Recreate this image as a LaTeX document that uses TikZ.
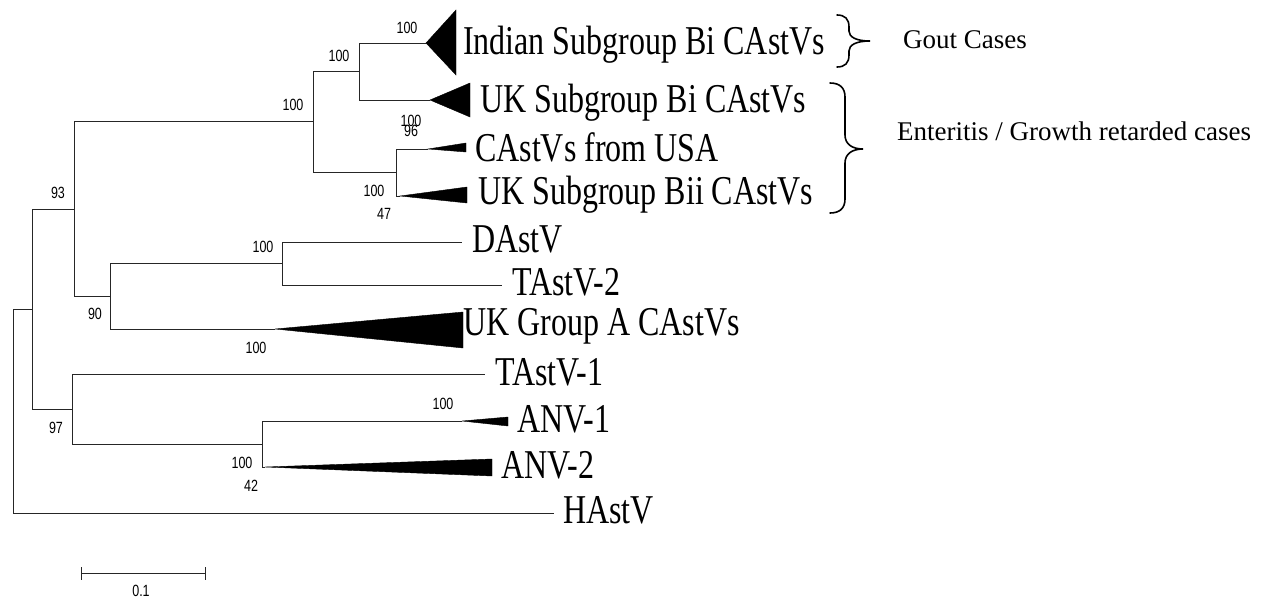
\documentclass[tikz,border=0pt]{standalone}
\usepackage{fontspec}
\usepackage{graphicx}
\setmainfont{Liberation Serif}
\newfontfamily\bsfamily{Liberation Sans}
\newcommand{\tiptext}[1]{\scalebox{1}[1.28]{\fontsize{32}{32}\selectfont #1}}
\newcommand{\bstext}[1]{\scalebox{1}[1.3]{\bsfamily\fontsize{12.5}{12.5}\selectfont #1}}
\begin{document}
\begin{tikzpicture}[x=1pt,y=-1pt,
  branch/.style={line width=0.8pt,draw=black!85},
  clade/.style={fill=black,draw=black,line width=0.4pt},
  tip/.style={anchor=base west,inner sep=0pt},
  bs/.style={inner sep=0pt,anchor=center},
  note/.style={anchor=base west,inner sep=0pt,font=\fontsize{27}{27}\selectfont},
  bracestyle/.style={line width=1.6pt,line cap=round}]
\useasboundingbox (0,0) rectangle (1267,600);

% internal nodes
\coordinate (R) at (13,411);
\coordinate (A) at (32,309.5);
\coordinate (B) at (74,209);
\coordinate (C) at (313,121.5);
\coordinate (D) at (359,71.5);
\coordinate (E) at (396,172.5);
\coordinate (G) at (110,296);
\coordinate (H) at (282,263.5);
\coordinate (F) at (72,409.5);
\coordinate (I) at (262,444);
% tips
\coordinate (tInd) at (426,43);
\coordinate (tUKBi) at (430,100);
\coordinate (tUSA) at (428,149);
\coordinate (tBii) at (400,196);
\coordinate (tD) at (462,242);
\coordinate (tT2) at (502,285);
\coordinate (tGA) at (275,329);
\coordinate (tT1) at (485,374);
\coordinate (tA1) at (462,421);
\coordinate (tA2) at (265,467);
\coordinate (tH) at (554,513);

% branches
\draw[branch] (R) |- (A);
\draw[branch] (R) |- (tH);
\draw[branch] (A) |- (B);
\draw[branch] (A) |- (F);
\draw[branch] (B) |- (C);
\draw[branch] (B) |- (G);
\draw[branch] (C) |- (D);
\draw[branch] (C) |- (E);
\draw[branch] (D) |- (tInd);
\draw[branch] (D) |- (tUKBi);
\draw[branch] (E) |- (tUSA);
\draw[branch] (E) |- (tBii);
\draw[branch] (G) |- (H);
\draw[branch] (G) |- (tGA);
\draw[branch] (H) |- (tD);
\draw[branch] (H) |- (tT2);
\draw[branch] (F) |- (tT1);
\draw[branch] (F) |- (I);
\draw[branch] (I) |- (tA1);
\draw[branch] (I) |- (tA2);

% collapsed clades
\filldraw[clade] (tInd) -- ++(30,-33) -- ++(0,65) -- cycle;
\filldraw[clade] (tUKBi) -- ++(40,-17) -- ++(0,34) -- cycle;
\filldraw[clade] (tUSA) -- ++(38,-6) -- ++(0,9) -- cycle;
\filldraw[clade] (tBii) -- ++(67,-9) -- ++(0,16) -- cycle;
\filldraw[clade] (tGA) -- ++(188,-17) -- ++(0,36) -- cycle;
\filldraw[clade] (tA1) -- ++(46,-4) -- ++(0,9) -- cycle;
\filldraw[clade] (tA2) -- ++(227,-8) -- ++(0,17) -- cycle;

% tip labels
\node[tip] (lInd) at (463,54) {\tiptext{Indian Subgroup Bi CAstVs}};
\node[tip] (lUKBi) at (480,112) {\tiptext{UK Subgroup Bi CAstVs}};
\node[tip] (lUSA) at (475,161) {\tiptext{CAstVs from USA}};
\node[tip] (lBii) at (478,204) {\tiptext{UK Subgroup Bii CAstVs}};
\node[tip] (lD) at (472,252) {\tiptext{DAstV}};
\node[tip] (lT2) at (512,295) {\tiptext{TAstV-2}};
\node[tip] (lGA) at (463,335) {\tiptext{UK Group A CAstVs}};
\node[tip] (lT1) at (495,385) {\tiptext{TAstV-1}};
\node[tip] (lA1) at (517,432) {\tiptext{ANV-1}};
\node[tip] (lA2) at (501,478) {\tiptext{ANV-2}};
\node[tip] (lH) at (563,523) {\tiptext{HAstV}};

% bootstrap values
\node[bs] (b1) at (407,27.5) {\bstext{100}};
\node[bs] (b2) at (339,56) {\bstext{100}};
\node[bs] (b3) at (293,105) {\bstext{100}};
\node[bs] (b4) at (411,121) {\bstext{100}};
\node[bs] (b5) at (411,131) {\bstext{96}};
\node[bs] (b6) at (374,191) {\bstext{100}};
\node[bs] (b7) at (384,214) {\bstext{47}};
\node[bs] (b8) at (58,193) {\bstext{93}};
\node[bs] (b9) at (263,247) {\bstext{100}};
\node[bs] (b10) at (95,314) {\bstext{90}};
\node[bs] (b11) at (256,348) {\bstext{100}};
\node[bs] (b12) at (56,428) {\bstext{97}};
\node[bs] (b13) at (242,463) {\bstext{100}};
\node[bs] (b14) at (251,486) {\bstext{42}};
\node[bs] (b15) at (443,404) {\bstext{100}};

% scale bar
\coordinate (s1) at (81,573);
\coordinate (s2) at (205,573);
\draw[branch] (s1) -- (s2);
\draw[branch] (s1) ++(0,-6) -- ++(0,13);
\draw[branch] (s2) ++(0,-6) -- ++(0,13);
\node[bs] (s0) at (141,591) {\bstext{0.1}};

% braces and case notes
\draw[bracestyle] (837,15) .. controls (845,15) and (849,19) .. (849,27) -- (849,31)
  .. controls (849,37) and (856,41) .. (870,41)
  .. controls (856,41) and (849,45) .. (849,51) -- (849,55)
  .. controls (849,63) and (845,67) .. (837,67);
\node[note] (gout) at (903,48) {Gout Cases};
\draw[bracestyle] (830,83) .. controls (840,83) and (845,88) .. (845,97) -- (845,135)
  .. controls (845,144) and (852,149) .. (863,149)
  .. controls (852,149) and (845,154) .. (845,163) -- (845,199)
  .. controls (845,208) and (840,213) .. (830,213);
\node[note] (enter) at (897,140) {Enteritis / Growth retarded cases};
\end{tikzpicture}
\end{document}
